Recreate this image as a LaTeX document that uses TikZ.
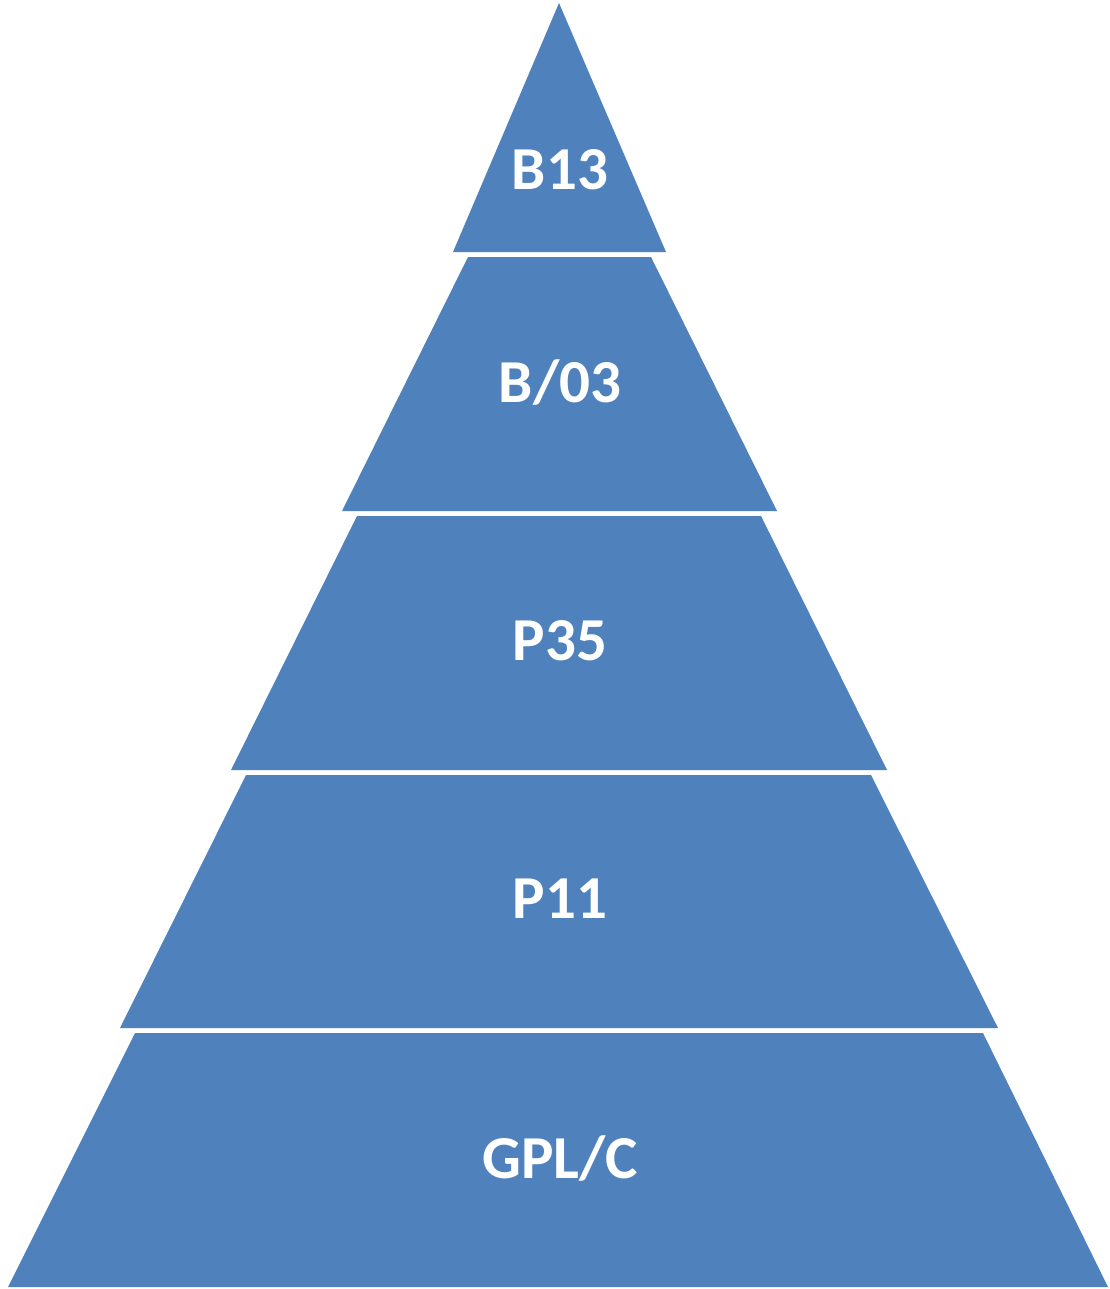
\documentclass[tikz,border=0pt]{standalone}
\usepackage{fontspec}
\setmainfont{Carlito}
\definecolor{layerblue}{HTML}{4F81BD}
\tikzset{
  layer/.style={fill=layerblue, draw=none},
  lbl/.style={text=white, font=\fontsize{61}{70}\selectfont\bfseries, inner sep=0pt}
}
\begin{document}
\begin{tikzpicture}[x=1pt,y=-1pt]
\useasboundingbox (0,0) rectangle (1109,1289);
\fill[layer] (559,3) -- (666,252) -- (453,252) -- cycle;
\fill[layer] (468,257) -- (651,257) -- (777,511) -- (342,511) -- cycle;
\fill[layer] (357,516) -- (761,516) -- (887,770) -- (231,770) -- cycle;
\fill[layer] (246,775) -- (871,775) -- (998,1028) -- (120,1028) -- cycle;
\fill[layer] (135,1033) -- (983,1033) -- (1108,1287) -- (8,1287) -- cycle;
\node[lbl] (l1) at (560,170) {B13};
\node[lbl] (l2) at (560,382) {B/03};
\node[lbl] (l3) at (560,641) {P35};
\node[lbl] (l4) at (560,899) {P11};
\node[lbl] (l5) at (560,1158) {GPL/C};
\end{tikzpicture}
\end{document}
